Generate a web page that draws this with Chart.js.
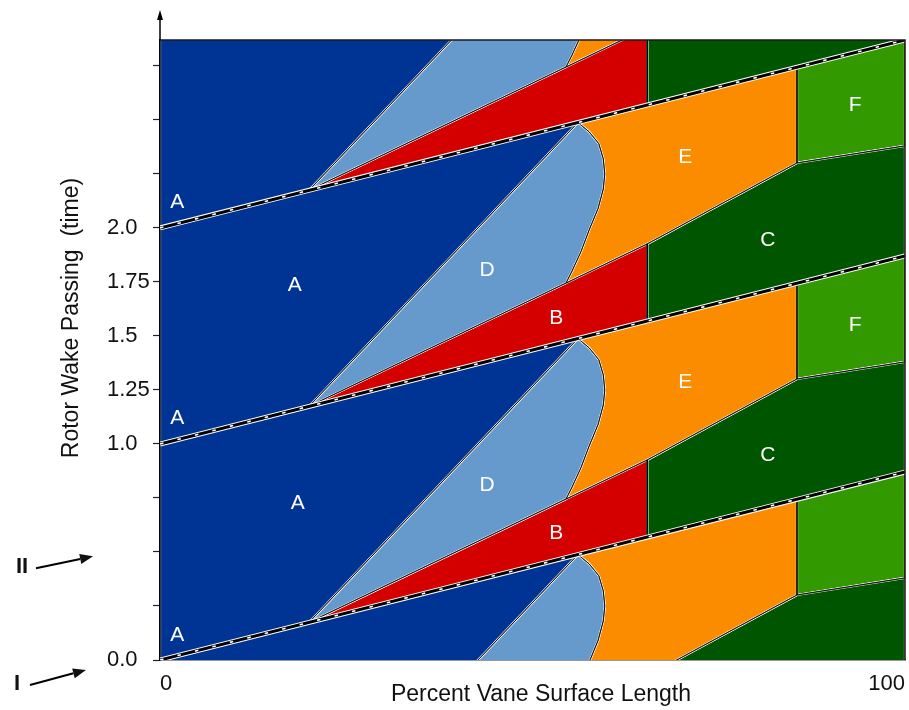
<!DOCTYPE html>
<html>
<head>
<meta charset="utf-8">
<script src="https://cdn.jsdelivr.net/npm/chart.js@4/dist/chart.umd.min.js"></script>
<style>
  html, body { margin: 0; padding: 0; background: #ffffff; }
  #wrap { width: 909px; height: 710px; }
</style>
</head>
<body>
<div id="wrap"><canvas id="chart" width="909" height="710"></canvas></div>
<script>
// ---- axes ----
const yMax = 2.87;
const xTickValues = [0, 100];
const xTickLabels = ['0', '100'];
const yTickValues = [0, 0.25, 0.5, 0.75, 1, 1.25, 1.5, 1.75, 2, 2.25, 2.5, 2.75];
const yTickLabels = ['0.0', '', '', '', '1.0', '1.25', '1.5', '1.75', '2.0', '', '', ''];

// ---- wake passing periods (each pattern repeats once per rotor wake) ----
const periods = [-1, 0, 1, 2];

// wake trajectory across the vane surface, relative to the period start
const wakeX = [0, 100];
const wakeY = [0, 0.87];

// boundary between the calmed region D and the transitional region E
const curveX = [56.1, 57.6, 58.9, 59.5, 59.7, 59.5, 58.8, 57.6, 56.5, 55.3, 54.5];
const curveY = [1.488, 1.445, 1.39, 1.32, 1.25, 1.18, 1.09, 0.99, 0.89, 0.80, 0.745];

// region outlines within one period (x in % surface, y in wake periods)
const regionAX = [0, 20, 56.1, 0];
const regionAY = [0, 0.174, 1.488, 1];
const regionDX = [20].concat(curveX);
const regionDY = [0.174].concat(curveY);
const regionBX = [20, 54.5, 65.4, 65.4];
const regionBY = [0.174, 0.745, 0.926, 0.569];
const regionEX = [56.1, 85.5, 85.5, 65.4].concat(curveX.slice().reverse());
const regionEY = [1.488, 1.744, 1.301, 0.926].concat(curveY.slice().reverse());
const regionCX = [65.4, 100, 100, 85.5, 65.4];
const regionCY = [0.569, 0.87, 1.38, 1.301, 0.926];
const regionFX = [85.5, 100, 100, 85.5];
const regionFY = [1.744, 1.87, 1.38, 1.301];

// region letters
const labelText = ['A', 'A', 'A', 'A', 'A', 'D', 'D', 'B', 'B', 'E', 'E', 'C', 'C', 'F', 'F'];
const labelX = [2.3, 18.1, 2.3, 18.5, 2.3, 43.9, 43.9, 53.2, 53.2, 70.5, 70.5, 81.6, 81.6, 93.3, 93.3];
const labelY = [2.12, 1.736, 1.12, 0.727, 0.116, 1.806, 0.81, 1.583, 0.588, 2.329, 1.287, 1.944, 0.949, 2.569, 1.551];

// time instants marked beside the axis
const markerText = ['I', 'II'];
const markerY = [-0.046, 0.48];

// ---- styles ----
const regionColors = {
  A: '#003494',
  D: '#6699cc',
  B: '#d40000',
  E: '#fb8c00',
  C: '#005500',
  F: '#339900'
};
const FONT = "'Liberation Sans', Arial, Helvetica, sans-serif";
Chart.defaults.font.family = FONT;

const regions = [
  { key: 'A', xs: regionAX, ys: regionAY },
  { key: 'D', xs: regionDX, ys: regionDY },
  { key: 'B', xs: regionBX, ys: regionBY },
  { key: 'E', xs: regionEX, ys: regionEY },
  { key: 'C', xs: regionCX, ys: regionCY },
  { key: 'F', xs: regionFX, ys: regionFY }
];

function polygon(xs, ys, n) {
  const pts = xs.map((x, i) => ({ x: x, y: ys[i] + n }));
  pts.push({ x: xs[0], y: ys[0] + n });
  return pts;
}

const datasets = [];
periods.forEach(n => {
  regions.forEach(r => {
    const pts = polygon(r.xs, r.ys, n);
    // filled region with a light edge
    datasets.push({
      data: pts, showLine: true, fill: 'shape',
      backgroundColor: regionColors[r.key],
      borderColor: 'rgba(255,255,255,0.9)', borderWidth: 2.2,
      pointRadius: 0, order: 6, clip: 0
    });
    // thin dark edge on top
    datasets.push({
      data: pts, showLine: true, fill: false,
      borderColor: 'rgba(10,10,10,0.9)', borderWidth: 0.9,
      pointRadius: 0, order: 5, clip: 0
    });
  });
});

periods.forEach(n => {
  const pts = wakeX.map((x, i) => ({ x: x, y: wakeY[i] + n }));
  datasets.push({ data: pts, showLine: true, fill: false, borderColor: '#ffffff', borderWidth: 5, pointRadius: 0, order: 3, clip: 0 });
  datasets.push({ data: pts, showLine: true, fill: false, borderColor: '#000000', borderWidth: 3, pointRadius: 0, order: 2, clip: 0 });
  datasets.push({ data: pts, showLine: true, fill: false, borderColor: '#ffffff', borderWidth: 1.6, borderDash: [3.5, 14.5], pointRadius: 0, order: 1, clip: 0 });
});

function arrow(ctx, x0, y0, x1, y1) {
  const ang = Math.atan2(y1 - y0, x1 - x0);
  const len = 13, half = 5;
  const bx = x1 - len * Math.cos(ang), by = y1 - len * Math.sin(ang);
  ctx.beginPath();
  ctx.moveTo(x0, y0);
  ctx.lineTo(bx, by);
  ctx.stroke();
  ctx.beginPath();
  ctx.moveTo(x1, y1);
  ctx.lineTo(bx + half * Math.sin(ang), by - half * Math.cos(ang));
  ctx.lineTo(bx - half * Math.sin(ang), by + half * Math.cos(ang));
  ctx.closePath();
  ctx.fill();
}

const decorations = {
  id: 'decorations',
  afterDatasetsDraw(chart) {
    const { ctx, chartArea: a, scales: { x, y } } = chart;
    ctx.save();
    // region letters
    ctx.fillStyle = '#ffffff';
    ctx.font = '21px ' + FONT;
    ctx.textAlign = 'center';
    ctx.textBaseline = 'middle';
    labelText.forEach((t, i) => {
      ctx.fillText(t, x.getPixelForValue(labelX[i]), y.getPixelForValue(labelY[i]));
    });
    // frame along top and right
    ctx.strokeStyle = '#1a1a1a';
    ctx.lineWidth = 1.5;
    ctx.beginPath();
    ctx.moveTo(a.left, a.top);
    ctx.lineTo(a.right, a.top);
    ctx.lineTo(a.right, a.bottom);
    ctx.stroke();
    ctx.restore();
  },
  afterDraw(chart) {
    const { ctx, chartArea: a, scales: { x, y } } = chart;
    ctx.save();
    // y axis continues upward into an arrow
    const ax = x.getPixelForValue(0);
    ctx.strokeStyle = '#000';
    ctx.fillStyle = '#000';
    ctx.lineWidth = 1.5;
    ctx.beginPath();
    ctx.moveTo(ax, a.top);
    ctx.lineTo(ax, 18);
    ctx.stroke();
    ctx.beginPath();
    ctx.moveTo(ax, 10);
    ctx.lineTo(ax - 3, 20);
    ctx.lineTo(ax + 3, 20);
    ctx.closePath();
    ctx.fill();

    // axis titles
    ctx.fillStyle = '#111';
    ctx.font = '23px ' + FONT;
    ctx.textAlign = 'center';
    ctx.textBaseline = 'middle';
    ctx.fillText('Percent Vane Surface Length', 541, 695);
    ctx.save();
    ctx.translate(72, 318);
    ctx.rotate(-Math.PI / 2);
    ctx.fillText('Rotor Wake Passing  (time)', 0, 0);
    ctx.restore();

    // instants I and II
    ctx.font = 'bold 22px ' + FONT;
    ctx.lineWidth = 2;
    markerText.forEach((t, i) => {
      const tipY = y.getPixelForValue(markerY[i]);
      const textX = t.length > 1 ? 22 : 17;
      const tailX = t.length > 1 ? 36 : 30;
      const tipX = t.length > 1 ? 93 : 86;
      const drop = t.length > 1 ? 12 : 15;
      ctx.fillText(t, textX, tipY + drop - 1);
      arrow(ctx, tailX, tipY + drop, tipX, tipY);
    });
    ctx.restore();
  }
};

new Chart(document.getElementById('chart'), {
  type: 'scatter',
  data: { datasets: datasets },
  plugins: [decorations],
  options: {
    responsive: false,
    animation: false,
    devicePixelRatio: 1,
    events: [],
    layout: { padding: { left: 107, top: 40, right: 4, bottom: 0 } },
    plugins: { legend: { display: false }, tooltip: { enabled: false } },
    scales: {
      x: {
        type: 'linear', min: 0, max: 100,
        afterFit(s) { s.height = 50; s.paddingLeft = 0; s.paddingRight = 0; },
        afterBuildTicks(s) { s.ticks = xTickValues.map(v => ({ value: v })); },
        grid: { drawOnChartArea: false, drawTicks: false },
        border: { color: '#333', width: 1.5 },
        ticks: {
          align: 'inner', autoSkip: false, maxRotation: 0, padding: 11,
          color: '#111', font: { size: 22 },
          callback: (v, i) => xTickLabels[i]
        }
      },
      y: {
        type: 'linear', min: 0, max: yMax,
        afterFit(s) { s.width = 53; s.paddingTop = 0; s.paddingBottom = 0; },
        afterBuildTicks(s) { s.ticks = yTickValues.map(v => ({ value: v })); },
        grid: { drawOnChartArea: false, drawTicks: true, tickLength: 7, color: '#222', tickWidth: 1.2 },
        border: { color: '#000', width: 1.5 },
        ticks: {
          crossAlign: 'far', autoSkip: false, padding: 3,
          color: '#111', font: { size: 22 },
          callback: (v, i) => yTickLabels[i]
        }
      }
    }
  }
});
</script>
</body>
</html>
